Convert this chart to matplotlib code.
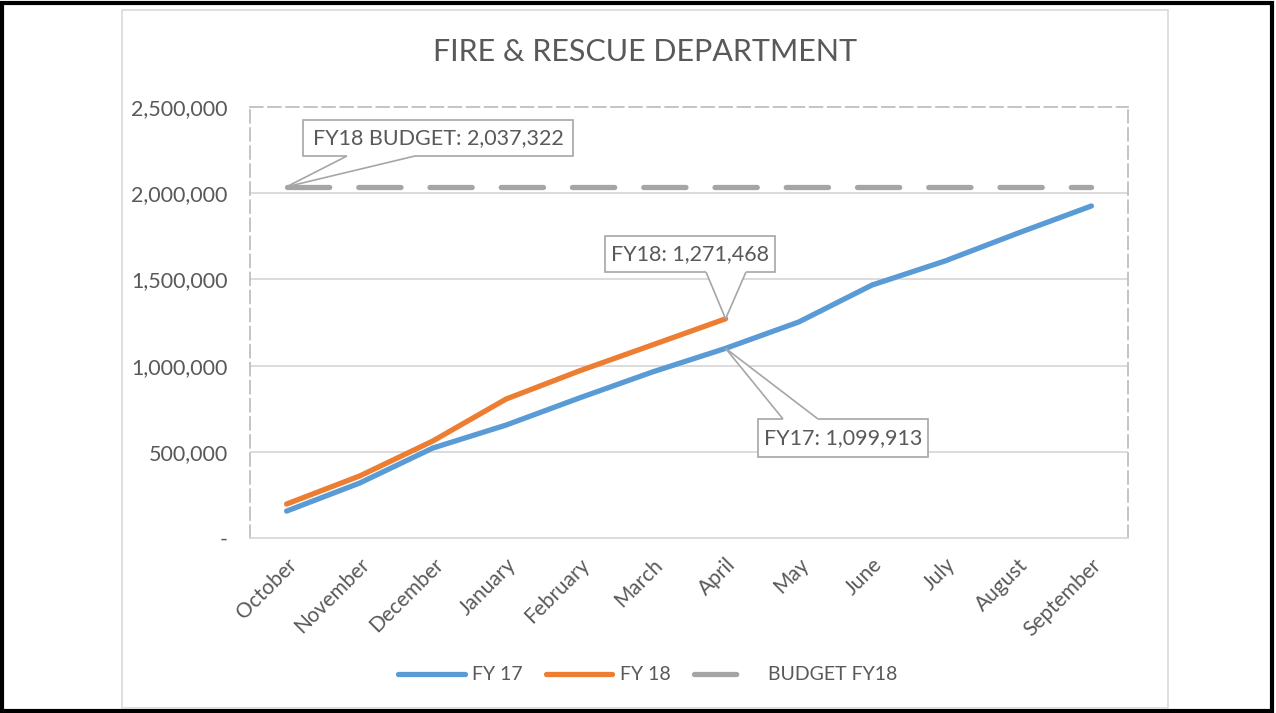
import matplotlib
matplotlib.use('Agg')
import matplotlib.pyplot as plt
from matplotlib.patches import Rectangle, Polygon
from matplotlib.ticker import FixedLocator, FixedFormatter

# Monthly cumulative spending
months = ['October', 'November', 'December', 'January', 'February', 'March',
          'April', 'May', 'June', 'July', 'August', 'September']
fy17 = [156000, 319000, 522000, 655000, 812000, 963000,
        1099913, 1253000, 1467000, 1607000, 1769000, 1926000]
fy18 = [197000, 360000, 563000, 806000, 969000, 1120000, 1271468]
budget_fy18 = [2037322] * 12

y_ticks = [0, 500000, 1000000, 1500000, 2000000, 2500000]
y_labels = ['-', '500,000', '1,000,000', '1,500,000', '2,000,000', '2,500,000']

BLUE = '#5B9BD5'
ORANGE = '#ED7D31'
GREY = '#A5A5A5'
TEXT = '#595959'
GRID = '#D9D9D9'
EDGE = '#A6A6A6'
FS = 15.5

plt.rcParams['font.family'] = ['Lato', 'DejaVu Sans']

W, H = 1276, 713
fig = plt.figure(figsize=(W / 100, H / 100), dpi=100)

# outer black frame and light chart frame
fig.patches.append(Rectangle((2 / W, 2 / H), 1 - 6 / W, 1 - 5 / H, transform=fig.transFigure,
                             fill=False, ec='black', lw=3, zorder=0))
fig.patches.append(Rectangle((122 / W, 1 - 708 / H), 1046 / W, 698 / H, transform=fig.transFigure,
                             fill=False, ec='#D9D9D9', lw=1.2, zorder=0))

ax = fig.add_axes([250 / W, 1 - 538 / H, 878 / W, 431 / H])
x = list(range(len(months)))

ax.plot(x, fy17, color=BLUE, lw=3.8, solid_capstyle='round', label='FY 17', zorder=3)
ax.plot(x[:len(fy18)], fy18, color=ORANGE, lw=3.8, solid_capstyle='round', label='FY 18', zorder=4)
ax.plot(x, budget_fy18, color=GREY, lw=3.8, dashes=(8, 5.5), dash_capstyle='round',
        label='BUDGET FY18', zorder=3)

ax.set_xlim(-0.5, len(months) - 0.5)
ax.set_ylim(0, 2500000)
ax.yaxis.set_major_locator(FixedLocator(y_ticks))
ax.yaxis.set_major_formatter(FixedFormatter(y_labels))
ax.set_xticks(x)
ax.set_xticklabels(months, rotation=45, ha='right', rotation_mode='anchor')
ax.tick_params(axis='both', length=0, labelsize=FS, labelcolor=TEXT)
ax.tick_params(axis='x', labelsize=15)
ax.tick_params(axis='y', pad=16)
ax.tick_params(axis='x', pad=12)

for yv in y_ticks[1:-1]:
    ax.axhline(yv, color=GRID, lw=1.3, zorder=1)

for side in ['left', 'top', 'right']:
    ax.spines[side].set_linestyle((0, (7, 3)))
    ax.spines[side].set_color('#BFBFBF')
    ax.spines[side].set_linewidth(1.3)
ax.spines['bottom'].set_color('#D9D9D9')
ax.spines['bottom'].set_linewidth(1.3)

inv = ax.transData.inverted()


def px(xp, yp):
    """image pixel (top-left origin) -> data coords"""
    return tuple(inv.transform((xp, H - yp)))


def callout(label, tip, box_px, base_px, inward):
    """Excel-style callout: a box with a wedge pointing at tip (data coords)."""
    l, t, r, b = box_px
    x0, y0 = px(l, b)
    x1, y1 = px(r, t)
    ax.add_patch(Rectangle((x0, y0), x1 - x0, y1 - y0, fc='white', ec=EDGE,
                           lw=1.2, zorder=5))
    (bx0, by0), (bx1, by1) = base_px
    # white fill reaching slightly into the box to hide its edge under the wedge
    ax.add_patch(Polygon([px(bx0, by0 + inward), px(bx0, by0), tip, px(bx1, by1),
                          px(bx1, by1 + inward)], closed=True, fc='white', ec='none',
                         zorder=6))
    for bx, by in base_px:
        p = px(bx, by)
        ax.plot([p[0], tip[0]], [p[1], tip[1]], color=EDGE, lw=1.2, zorder=6.5,
                solid_capstyle='butt')
    ax.text((x0 + x1) / 2, (y0 + y1) / 2, label, ha='center', va='center',
            fontsize=FS, color=TEXT, zorder=7)


callout('FY18 BUDGET: 2,037,322', (0, budget_fy18[0]), (303, 120, 573, 156),
        [(347, 156), (415, 156)], -3)
callout('FY18: 1,271,468', (6, fy18[6]), (605, 236, 775, 272),
        [(706, 272), (746, 272)], -3)
callout('FY17: 1,099,913', (6, fy17[6]), (758, 419, 928, 457),
        [(783, 419), (818, 419)], 3)

fig.text(645 / W, 1 - 52 / H, 'FIRE & RESCUE DEPARTMENT', ha='center', va='center',
         fontsize=22, color=TEXT)

fig.legend(loc='center', bbox_to_anchor=(648 / W, 1 - 675 / H), ncol=3, frameon=False,
           fontsize=14, labelcolor=TEXT, handlelength=3.4, handletextpad=0.4,
           columnspacing=1.2)

fig.savefig('out.png', dpi=100)
